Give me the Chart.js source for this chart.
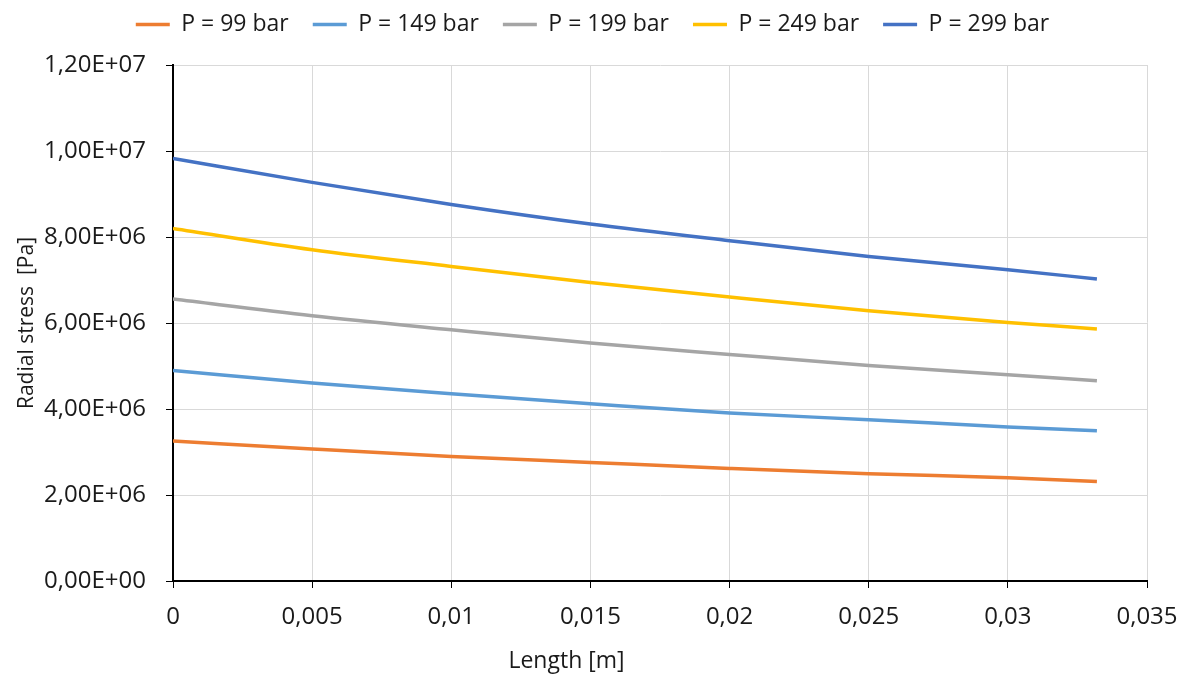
<!DOCTYPE html>
<html>
<head>
<meta charset="utf-8">
<script src="https://cdn.jsdelivr.net/npm/chart.js@4.4.1/dist/chart.umd.min.js"></script>
<style>
  html, body { margin: 0; background: #fff; }
</style>
</head>
<body>
<canvas id="stressChart" width="1185" height="675"></canvas>
<script>
// length along the part [m]
const lengths = [0, 0.005, 0.01, 0.015, 0.02, 0.025, 0.03, 0.0332];
// radial stress [Pa] for each pressure
const p99  = [3.256e6, 3.070e6, 2.898e6, 2.758e6, 2.619e6, 2.495e6, 2.402e6, 2.316e6];
const p149 = [4.898e6, 4.605e6, 4.356e6, 4.123e6, 3.907e6, 3.751e6, 3.581e6, 3.495e6];
const p199 = [6.558e6, 6.170e6, 5.844e6, 5.535e6, 5.270e6, 5.014e6, 4.798e6, 4.658e6];
const p249 = [8.200e6, 7.705e6, 7.316e6, 6.944e6, 6.605e6, 6.286e6, 6.014e6, 5.860e6];
const p299 = [9.828e6, 9.270e6, 8.758e6, 8.302e6, 7.914e6, 7.549e6, 7.240e6, 7.023e6];
const seriesNames = ['P = 99 bar', 'P = 149 bar', 'P = 199 bar', 'P = 249 bar', 'P = 299 bar'];
const colors = ['#ED7D31', '#5B9BD5', '#A5A5A5', '#FFC000', '#4472C4'];

const textColor = '#1a1a1a';
const fontFamily = '"Open Sans", sans-serif';

function toPoints(vals) {
  return vals.map((v, i) => ({ x: lengths[i], y: v }));
}

const datasets = [p99, p149, p199, p249, p299].map((vals, i) => ({
  label: seriesNames[i],
  data: toPoints(vals),
  borderColor: colors[i],
  backgroundColor: colors[i],
  borderWidth: 3.5,
  pointRadius: 0,
  tension: 0.4,
  cubicInterpolationMode: 'monotone',
  showLine: true
}));

// x axis title sits left of the plot centre in the original
const xTitlePlugin = {
  id: 'xTitle',
  afterDraw(chart) {
    const ctx = chart.ctx;
    const a = chart.chartArea;
    ctx.save();
    ctx.fillStyle = textColor;
    ctx.font = '23px ' + fontFamily;
    ctx.textAlign = 'center';
    ctx.textBaseline = 'middle';
    ctx.fillText('Length [m]', a.left + a.width * 0.404, a.bottom + 80);
    ctx.restore();
  }
};

const chart = new Chart(document.getElementById('stressChart'), {
  type: 'scatter',
  data: { datasets: datasets },
  plugins: [xTitlePlugin],
  options: {
    responsive: false,
    animation: false,
    layout: { padding: { top: -11, right: 0, bottom: 0, left: 0 } },
    plugins: {
      legend: {
        position: 'top',
        labels: {
          usePointStyle: true,
          pointStyle: 'line',
          pointStyleWidth: 34,
          boxHeight: 23,
          padding: 24,
          color: textColor,
          font: { family: fontFamily, size: 23 }
        }
      },
      tooltip: { enabled: false }
    },
    scales: {
      x: {
        type: 'linear',
        min: 0,
        max: 0.035,
        afterFit: s => { s.height = 94; s.paddingLeft = 0; s.paddingRight = 38; },
        ticks: {
          stepSize: 0.005,
          maxRotation: 0,
          padding: 15,
          color: textColor,
          font: { family: fontFamily, size: 24 },
          callback: v => String(+v.toFixed(3)).replace('.', ',')
        },
        grid: { color: '#d9d9d9', lineWidth: 1, tickColor: '#000', tickLength: 7 },
        border: { color: '#000', width: 2 }
      },
      y: {
        min: 0,
        max: 12e6,
        afterFit: s => { s.width = 173; },
        ticks: {
          stepSize: 2e6,
          padding: 20,
          color: textColor,
          font: { family: fontFamily, size: 24 },
          callback: v => {
            const parts = v.toExponential(2).split('e');
            const exp = parseInt(parts[1], 10);
            const sign = exp < 0 ? '-' : '+';
            return parts[0].replace('.', ',') + 'E' + sign + String(Math.abs(exp)).padStart(2, '0');
          }
        },
        title: {
          display: true,
          text: 'Radial stress  [Pa]',
          color: textColor,
          font: { family: fontFamily, size: 21 },
          padding: { top: 14, bottom: 0 }
        },
        grid: { color: '#d9d9d9', lineWidth: 1, tickColor: '#000', tickLength: 7 },
        border: { color: '#000', width: 2 }
      }
    }
  }
});

// leave room under the legend so the plot starts where the original does
const baseFit = chart.legend.fit;
chart.legend.fit = function () {
  baseFit.call(this);
  this.height = 76;
};
chart.update();
</script>
</body>
</html>
